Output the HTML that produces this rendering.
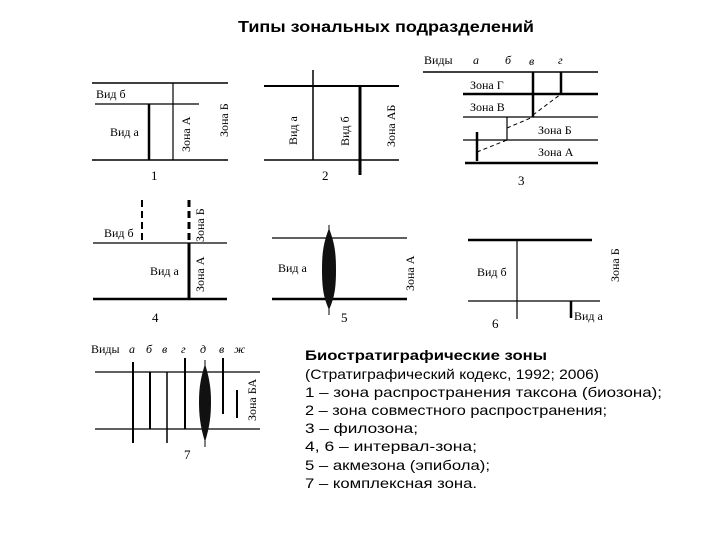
<!DOCTYPE html>
<html><head><meta charset="utf-8"><style>
html,body{margin:0;padding:0;background:#fff;}
svg{display:block;}
.s{font-family:"Liberation Serif",serif;font-size:12px;fill:#000;}
.t{font-family:"Liberation Sans",sans-serif;font-size:14px;fill:#000;}
</style></head><body>
<svg width="720" height="540" viewBox="0 0 720 540" xmlns="http://www.w3.org/2000/svg" stroke="#000" fill="none">
<text x="238" y="32" class="t" stroke="none" style="font-weight:bold;font-size:16px" textLength="296" lengthAdjust="spacingAndGlyphs">Типы зональных подразделений</text>

<!-- Panel 1 -->
<line x1="92" y1="83" x2="228" y2="83" stroke-width="1.5"/>
<line x1="95" y1="104" x2="199" y2="104" stroke-width="1.2"/>
<line x1="149" y1="104" x2="149" y2="160" stroke-width="2.5"/>
<line x1="173" y1="83" x2="173" y2="160" stroke-width="1.2"/>
<line x1="92" y1="160" x2="228" y2="160" stroke-width="1.5"/>
<g stroke="none">
<text x="96" y="98" class="s">Вид б</text>
<text x="110" y="136" class="s">Вид а</text>
<text class="s" transform="translate(190,152) rotate(-90)">Зона А</text>
<text class="s" transform="translate(228,137) rotate(-90)">Зона Б</text>
<text x="151" y="180" class="s" style="font-size:13px">1</text>
</g>

<!-- Panel 2 -->
<line x1="264" y1="86" x2="399" y2="86" stroke-width="2"/>
<line x1="313" y1="70" x2="313" y2="160" stroke-width="1.5"/>
<line x1="360" y1="86" x2="360" y2="175" stroke-width="3"/>
<line x1="264" y1="160" x2="399" y2="160" stroke-width="1.5"/>
<g stroke="none">
<text class="s" transform="translate(297,145) rotate(-90)">Вид а</text>
<text class="s" transform="translate(349,146) rotate(-90)">Вид б</text>
<text class="s" transform="translate(395,147) rotate(-90)">Зона АБ</text>
<text x="322" y="180" class="s" style="font-size:13px">2</text>
</g>

<!-- Panel 3 -->
<line x1="423" y1="72" x2="598" y2="72" stroke-width="1.5"/>
<line x1="463" y1="94" x2="598" y2="94" stroke-width="2.5"/>
<line x1="463" y1="117" x2="598" y2="117" stroke-width="1.2"/>
<line x1="463" y1="140" x2="598" y2="140" stroke-width="1.2"/>
<line x1="465" y1="163" x2="598" y2="163" stroke-width="2.5"/>
<line x1="533" y1="72" x2="533" y2="117" stroke-width="2.5"/>
<line x1="561" y1="72" x2="561" y2="94" stroke-width="2.5"/>
<line x1="507" y1="117" x2="507" y2="140" stroke-width="1.2"/>
<line x1="477" y1="132" x2="477" y2="161" stroke-width="2.5"/>
<g stroke-dasharray="4,3" stroke-width="1">
<line x1="533" y1="115" x2="561" y2="94"/>
<line x1="507" y1="128" x2="533" y2="117"/>
<line x1="477" y1="152" x2="507" y2="140"/>
</g>
<g stroke="none">
<text x="424" y="64" class="s">Виды</text>
<text x="473" y="64" class="s" style="font-style:italic">а</text>
<text x="505" y="64" class="s" style="font-style:italic">б</text>
<text x="529" y="65" class="s" style="font-style:italic">в</text>
<text x="558" y="64" class="s" style="font-style:italic">г</text>
<text x="470" y="89" class="s">Зона Г</text>
<text x="470" y="111" class="s">Зона В</text>
<text x="538" y="134" class="s">Зона Б</text>
<text x="538" y="156" class="s">Зона А</text>
<text x="518" y="185" class="s" style="font-size:13px">3</text>
</g>

<!-- Panel 4 -->
<line x1="93" y1="243" x2="227" y2="243" stroke-width="1.2"/>
<line x1="93" y1="299" x2="227" y2="299" stroke-width="2.5"/>
<line x1="142" y1="200" x2="142" y2="243" stroke-width="2" stroke-dasharray="7,4"/>
<line x1="189" y1="200" x2="189" y2="243" stroke-width="3" stroke-dasharray="7,4"/>
<line x1="189" y1="243" x2="189" y2="299" stroke-width="3"/>
<g stroke="none">
<text x="104" y="237" class="s">Вид б</text>
<text x="150" y="275" class="s">Вид а</text>
<text class="s" transform="translate(204,242) rotate(-90)">Зона Б</text>
<text class="s" transform="translate(204,292) rotate(-90)">Зона А</text>
<text x="152" y="322" class="s" style="font-size:13px">4</text>
</g>

<!-- Panel 5 -->
<line x1="272" y1="238" x2="407" y2="238" stroke-width="1.2"/>
<line x1="272" y1="299" x2="407" y2="299" stroke-width="2.5"/>
<line x1="329" y1="225" x2="329" y2="315" stroke-width="1"/>
<path d="M329 228 C324 242 322 250 322 270 C322 290 324 298 329 310 C334 298 336 290 336 270 C336 250 334 242 329 228 Z" fill="#111" stroke="none"/>
<g stroke="none">
<text x="278" y="272" class="s">Вид а</text>
<text class="s" transform="translate(414,291) rotate(-90)">Зона А</text>
<text x="341" y="322" class="s" style="font-size:13px">5</text>
</g>

<!-- Panel 6 -->
<line x1="468" y1="240" x2="592" y2="240" stroke-width="2.5"/>
<line x1="517" y1="240" x2="517" y2="319" stroke-width="1.2"/>
<line x1="468" y1="301" x2="600" y2="301" stroke-width="1.2"/>
<line x1="571" y1="301" x2="571" y2="318" stroke-width="2.5"/>
<g stroke="none">
<text x="477" y="276" class="s">Вид б</text>
<text x="574" y="320" class="s">Вид а</text>
<text class="s" transform="translate(619,282) rotate(-90)">Зона Б</text>
<text x="492" y="328" class="s" style="font-size:13px">6</text>
</g>

<!-- Panel 7 -->
<line x1="95" y1="372" x2="260" y2="372" stroke-width="1.2"/>
<line x1="95" y1="429" x2="260" y2="429" stroke-width="1.2"/>
<line x1="133" y1="362" x2="133" y2="443" stroke-width="2"/>
<line x1="150" y1="372" x2="150" y2="429" stroke-width="2"/>
<line x1="167" y1="372" x2="167" y2="443" stroke-width="1.5"/>
<line x1="185" y1="358" x2="185" y2="429" stroke-width="2"/>
<line x1="205" y1="360" x2="205" y2="447" stroke-width="1"/>
<path d="M205 364 C200 380 199 390 199 402 C199 414 200 426 205 442 C210 426 211 414 211 402 C211 390 210 380 205 364 Z" fill="#111" stroke="none"/>
<line x1="223" y1="358" x2="223" y2="414" stroke-width="2"/>
<line x1="237" y1="390" x2="237" y2="418" stroke-width="2"/>
<g stroke="none">
<text x="91" y="353" class="s">Виды</text>
<g class="s" style="font-style:italic">
<text x="129" y="353">а</text>
<text x="146" y="353">б</text>
<text x="162" y="353">в</text>
<text x="181" y="353">г</text>
<text x="200" y="353">д</text>
<text x="219" y="353">в</text>
<text x="234" y="353">ж</text>
</g>
<text class="s" transform="translate(256,421) rotate(-90)">Зона БА</text>
<text x="184" y="459" class="s" style="font-size:13px">7</text>
</g>

<!-- Legend -->
<g stroke="none" class="t">
<text x="305" y="360" style="font-weight:bold" textLength="242" lengthAdjust="spacingAndGlyphs">Биостратиграфические зоны</text>
<text x="305" y="379" textLength="294" lengthAdjust="spacingAndGlyphs">(Стратиграфический кодекс, 1992; 2006)</text>
<text x="305" y="397" textLength="357" lengthAdjust="spacingAndGlyphs">1 – зона распространения таксона (биозона);</text>
<text x="305" y="415" textLength="302" lengthAdjust="spacingAndGlyphs">2 – зона совместного распространения;</text>
<text x="305" y="433" textLength="113" lengthAdjust="spacingAndGlyphs">3 – филозона;</text>
<text x="305" y="451" textLength="172" lengthAdjust="spacingAndGlyphs">4, 6 – интервал-зона;</text>
<text x="305" y="470" textLength="185" lengthAdjust="spacingAndGlyphs">5 – акмезона (эпибола);</text>
<text x="305" y="488" textLength="172" lengthAdjust="spacingAndGlyphs">7 – комплексная зона.</text>
</g>
</svg>
</body></html>
